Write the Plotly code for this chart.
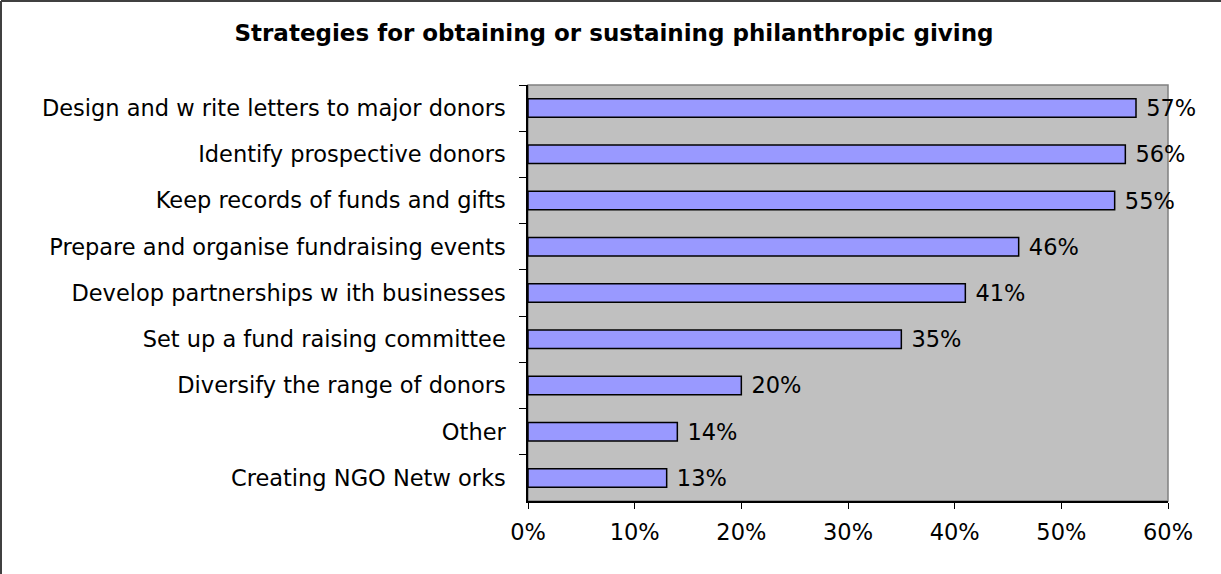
import plotly.graph_objects as go

# Survey results: share of respondents using each strategy (top to bottom)
strategies = [
    "Design and w rite letters to major donors",
    "Identify prospective donors",
    "Keep records of funds and gifts",
    "Prepare and organise fundraising events",
    "Develop partnerships w ith businesses",
    "Set up a fund raising committee",
    "Diversify the range of donors",
    "Other",
    "Creating NGO Netw orks",
]
shares = [57, 56, 55, 46, 41, 35, 20, 14, 13]
x_ticks = [0, 10, 20, 30, 40, 50, 60]

title_text = "Strategies for obtaining or sustaining philanthropic giving"

FONT = "DejaVu Sans"
SIZE = 22.5

fig = go.Figure(
    go.Bar(
        y=strategies,
        x=shares,
        orientation="h",
        marker=dict(color="#9999FF", line=dict(color="#000000", width=1.5)),
        text=[f" {v}%" for v in shares],
        textposition="outside",
        constraintext="none",
        textfont=dict(family=FONT, size=SIZE, color="#000000"),
        cliponaxis=False,
        hoverinfo="skip",
    )
)

fig.update_layout(
    width=1221,
    height=574,
    margin=dict(l=528, r=53, t=85, b=73),
    paper_bgcolor="#FFFFFF",
    plot_bgcolor="#C0C0C0",
    bargap=0.6,
    showlegend=False,
    font=dict(family=FONT, size=SIZE, color="#000000"),
    title=dict(
        text=title_text,
        font=dict(family=FONT, size=23, color="#000000", weight="bold"),
        x=614 / 1221,
        xanchor="center",
        y=1 - 33 / 574,
        yanchor="middle",
    ),
    xaxis=dict(
        range=[0, 60],
        tickvals=x_ticks,
        ticktext=[f"{v}%" for v in x_ticks],
        ticks="outside",
        ticklen=6,
        tickcolor="#000000",
        showgrid=False,
        zeroline=False,
        showline=True,
        linecolor="#000000",
        linewidth=1.5,
        ticklabelstandoff=4,
        tickfont=dict(family=FONT, size=SIZE),
    ),
    yaxis=dict(
        categoryorder="array",
        categoryarray=strategies,
        autorange="reversed",
        tickson="boundaries",
        ticks="outside",
        ticklen=7,
        tickcolor="#000000",
        showgrid=False,
        zeroline=False,
        showline=True,
        linecolor="#000000",
        linewidth=1.5,
        ticklabelstandoff=16,
        tickfont=dict(family=FONT, size=SIZE),
    ),
    shapes=[
        # grey frame on the top and right of the plotting area
        dict(type="rect", xref="paper", yref="paper", x0=0, x1=1, y0=0, y1=1,
             line=dict(color="#808080", width=1.5), fillcolor="rgba(0,0,0,0)",
             layer="below"),
        # outer chart border (left and top edges)
        dict(type="line", xref="paper", yref="paper",
             x0=-527 / 640, x1=-527 / 640, y0=-73 / 416, y1=1 + 84 / 416,
             line=dict(color="#404040", width=2)),
        dict(type="line", xref="paper", yref="paper",
             x0=-527 / 640, x1=1 + 53 / 640, y0=1 + 84 / 416, y1=1 + 84 / 416,
             line=dict(color="#404040", width=2)),
    ],
)

fig.write_html("out.html")
